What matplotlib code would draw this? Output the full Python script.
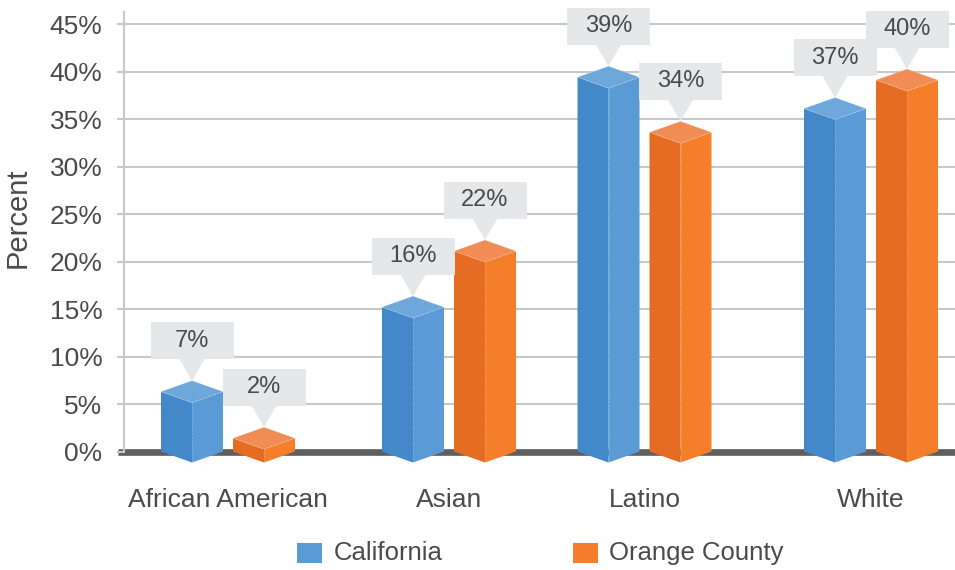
import matplotlib
matplotlib.use("Agg")
import matplotlib.pyplot as plt
from matplotlib.patches import Polygon, Rectangle

plt.rcParams['font.family'] = ['Liberation Sans', 'DejaVu Sans']

# ---------------- data ----------------
categories = ["African American", "Asian", "Latino", "White"]
series_names = ["California", "Orange County"]
california = [6.3, 15.2, 39.4, 36.1]      # bar heights (%)
orange_county = [1.4, 21.1, 33.6, 39.1]
california_labels = ["7%", "16%", "39%", "37%"]
orange_county_labels = ["2%", "22%", "34%", "40%"]
yticks = [0, 5, 10, 15, 20, 25, 30, 35, 40, 45]
ytick_labels = ["0%", "5%", "10%", "15%", "20%", "25%", "30%", "35%", "40%", "45%"]

# ---------------- layout / style ----------------
W, H = 955, 570
group_x = [228, 449, 644.5, 871]   # group centres (axis units = px)
bar_offset = 36
half_w = 31
PX_PER_PCT = 9.5
depth = 11 / PX_PER_PCT            # half height of top diamond in % units

ax_left, ax_right = 124, 955
ax_top, ax_zero = 11.7, 451.5
ymax = (ax_zero - ax_top) / PX_PER_PCT

text_col = "#4a4a4a"
grid_col = "#c8c8c8"
box_col = "#e6e7e9"
colors = {
    0: dict(left="#4388c9", right="#5a9bd6", top="#6ea7da", legend="#5b9bd5"),
    1: dict(left="#e46c23", right="#f47e2a", top="#f28c55", legend="#f47c2a"),
}

fig = plt.figure(figsize=(W / 100, H / 100), dpi=100)
ax = fig.add_axes([ax_left / W, 1 - ax_zero / H, (ax_right - ax_left) / W, (ax_zero - ax_top) / H])
ax.set_xlim(ax_left, ax_right)
ax.set_ylim(0, ymax)

for s in ["top", "right", "bottom"]:
    ax.spines[s].set_visible(False)
ax.spines["left"].set_color(grid_col)
ax.spines["left"].set_linewidth(1.5)

ax.set_yticks(yticks)
ax.set_yticklabels(ytick_labels, fontsize=19, color=text_col)
ax.tick_params(axis="y", length=5, width=1.5, color=grid_col, pad=10.5)
ax.set_xticks([])
for t in yticks[1:]:
    ax.axhline(t, color=grid_col, lw=1.5, zorder=0)

ax.set_ylabel("Percent", fontsize=21, color=text_col)
ax.yaxis.set_label_coords(-0.111, 0.532)

# baseline band
ax.plot([ax_left - 6, ax_right], [0, 0], color="#5f5f5f", lw=4.8, solid_capstyle="butt",
        clip_on=False, zorder=1)


def prism(cx, v, c):
    d = depth
    left = [(cx - half_w, v), (cx, v - d), (cx, -d), (cx - half_w, 0)]
    right = [(cx, v - d), (cx + half_w, v), (cx + half_w, 0), (cx, -d)]
    top = [(cx - half_w, v), (cx, v + d), (cx + half_w, v), (cx, v - d)]
    ax.add_patch(Polygon(left, closed=True, fc=c["left"], ec="none", clip_on=False, zorder=3))
    ax.add_patch(Polygon(right, closed=True, fc=c["right"], ec="none", clip_on=False, zorder=3))
    ax.add_patch(Polygon(top, closed=True, fc=c["top"], ec=(1, 1, 1, 0.35), lw=0.6,
                         ls=(0, (2, 2)), clip_on=False, zorder=4))
    ax.plot([cx, cx], [v - d, -d], color=(1, 1, 1, 0.25), lw=0.6, ls=(0, (2, 2)),
            clip_on=False, zorder=4)


def callout(cx, v, label):
    apex = v + depth
    gap = 21.5 / PX_PER_PCT
    bh = 37 / PX_PER_PCT
    bw = 83
    tw = 12.5
    yb = apex + gap
    ax.add_patch(Rectangle((cx - bw / 2, yb), bw, bh, fc=box_col, ec="none",
                           clip_on=False, zorder=5))
    ax.add_patch(Polygon([(cx - tw, yb), (cx + tw, yb), (cx, apex)], closed=True,
                         fc=box_col, ec="none", clip_on=False, zorder=5))
    ax.text(cx, yb + bh / 2, label, ha="center", va="center", fontsize=17,
            color=text_col, zorder=6, clip_on=False)


for i, gx in enumerate(group_x):
    prism(gx - bar_offset, california[i], colors[0])
    prism(gx + bar_offset, orange_county[i], colors[1])
for i, gx in enumerate(group_x):
    callout(gx - bar_offset, california[i], california_labels[i])
    callout(gx + bar_offset, orange_county[i], orange_county_labels[i])

# category labels
for i, gx in enumerate(group_x):
    ax.text(gx, -(500 - ax_zero) / PX_PER_PCT, categories[i], ha="center", va="center",
            fontsize=19, color=text_col, clip_on=False)

# legend (figure pixel coordinates)
def fx(x):
    return x / W


def fy(y):
    return 1 - y / H


legend_sq_x = [297, 572.5]
legend_txt_x = [334, 608.5]
for k, name in enumerate(series_names):
    fig.add_artist(Rectangle((fx(legend_sq_x[k]), fy(563)), 25 / W, 20 / H,
                             transform=fig.transFigure, fc=colors[k]["legend"], ec="none"))
    fig.text(fx(legend_txt_x[k]), fy(553), name, ha="left", va="center",
             fontsize=18.5, color=text_col)

fig.savefig("out.png", dpi=100)
